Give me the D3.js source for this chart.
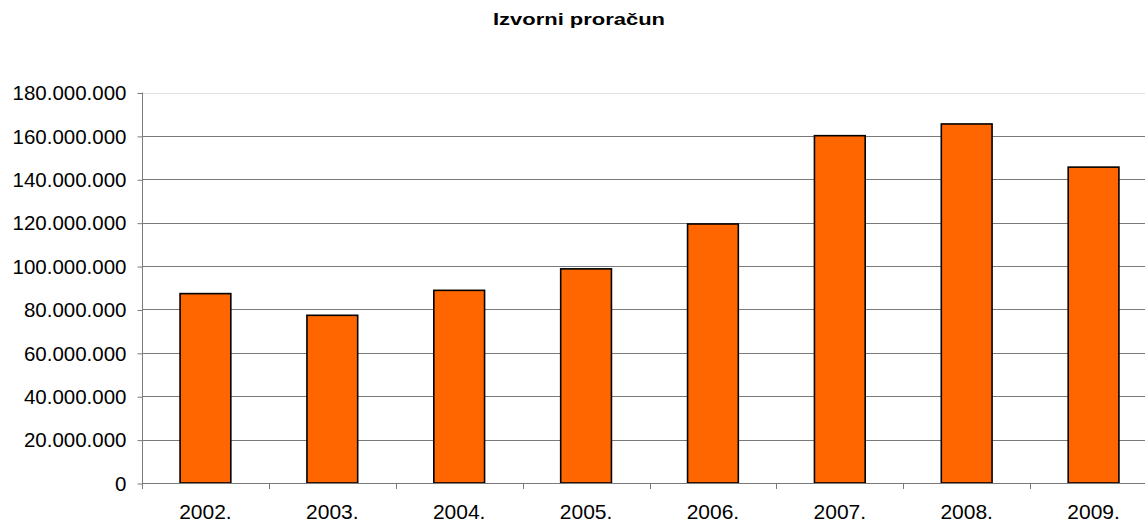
<!DOCTYPE html>
<html>
<head>
<meta charset="utf-8">
<script src="https://cdn.jsdelivr.net/npm/d3@7"></script>
<style>
  body { margin: 0; background: #fff; }
  text { font-family: Arial, "Liberation Sans", sans-serif; fill: #000; }
</style>
</head>
<body>
<div id="chart"></div>
<script>
const years = ['2002.', '2003.', '2004.', '2005.', '2006.', '2007.', '2008.', '2009.'];
const values = [87300000, 77300000, 88800000, 98700000, 119400000, 160100000, 165500000, 145600000];
const yTicks = [0, 20000000, 40000000, 60000000, 80000000, 100000000, 120000000, 140000000, 160000000, 180000000];

const width = 1145;
const height = 522;
const plotLeft = 142, plotRight = 1157, plotTop = 92.5, plotBottom = 483;

const svg = d3.select('#chart')
    .append('svg')
    .attr('width', width)
    .attr('height', height);

const x = d3.scaleBand()
    .domain(years)
    .range([plotLeft, plotRight])
    .paddingInner(0.6)
    .paddingOuter(0.3);

const y = d3.scaleLinear()
    .domain([0, 180000000])
    .range([plotBottom, plotTop]);

const fmt = v => d3.format(',')(v).replace(/,/g, '.');

// gridlines
svg.selectAll('.grid')
    .data(yTicks.filter(d => d > 0))
    .enter().append('line')
    .attr('class', 'grid')
    .attr('x1', plotLeft)
    .attr('x2', width)
    .attr('y1', d => Math.round(y(d)) + 0.5)
    .attr('y2', d => Math.round(y(d)) + 0.5)
    .attr('stroke', d => d === 180000000 ? '#e0e0e0' : '#7a7a7a')
    .attr('stroke-width', 1);

// y axis
const yAxis = svg.append('g')
    .attr('transform', `translate(${plotLeft + 0.5},0)`)
    .call(d3.axisLeft(y).tickValues(yTicks).tickSize(5).tickPadding(11).tickFormat(fmt));
yAxis.selectAll('line, path').attr('stroke', '#7a7a7a');
yAxis.select('.domain').attr('d', `M0,${plotTop}V${plotBottom}`);
yAxis.selectAll('.tick line').attr('transform', 'translate(0,0.5)');
yAxis.selectAll('text')
    .style('font-size', '20.5px')
    .attr('fill', '#000')
    .attr('dy', '0.35em');

// bars
svg.selectAll('.bar')
    .data(values)
    .enter().append('rect')
    .attr('class', 'bar')
    .attr('x', (d, i) => x(years[i]))
    .attr('y', d => y(d))
    .attr('width', x.bandwidth())
    .attr('height', d => plotBottom - y(d))
    .attr('fill', '#FF6600')
    .attr('stroke', '#000')
    .attr('stroke-width', 1.6);

// x axis
const bounds = d3.range(years.length + 1).map(i => plotLeft + i * (plotRight - plotLeft) / years.length);
svg.append('line')
    .attr('x1', plotLeft).attr('x2', width)
    .attr('y1', plotBottom + 0.5).attr('y2', plotBottom + 0.5)
    .attr('stroke', '#7a7a7a');
svg.selectAll('.xtick')
    .data(bounds)
    .enter().append('line')
    .attr('class', 'xtick')
    .attr('x1', d => Math.round(d) + 0.5)
    .attr('x2', d => Math.round(d) + 0.5)
    .attr('y1', plotBottom)
    .attr('y2', plotBottom + 6)
    .attr('stroke', '#7a7a7a');
svg.selectAll('.xlabel')
    .data(years)
    .enter().append('text')
    .attr('class', 'xlabel')
    .attr('x', d => x(d) + x.bandwidth() / 2)
    .attr('y', 519)
    .attr('text-anchor', 'middle')
    .style('font-size', '21px')
    .text(d => d);

// title
svg.append('text')
    .attr('x', 579)
    .attr('y', 25)
    .attr('text-anchor', 'middle')
    .style('font-size', '16px')
    .style('font-weight', 'bold')
    .attr('textLength', 172)
    .attr('lengthAdjust', 'spacingAndGlyphs')
    .text('Izvorni proračun');
</script>
</body>
</html>
